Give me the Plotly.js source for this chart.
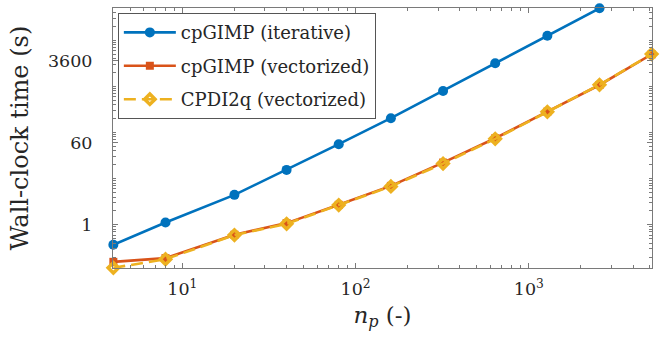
<!DOCTYPE html>
<html>
<head>
<meta charset="utf-8">
<script src="https://cdn.plot.ly/plotly-3.0.1.min.js"></script>
<style>html,body{margin:0;padding:0;background:#fff}#chart{width:662px;height:346px}</style>
</head>
<body>
<div id="chart"></div>
<script>
// Data
const np = [4, 8, 20, 40, 80, 160, 320, 640, 1280, 2560, 5120];
const cpgimpIterative = [0.37, 1.12, 4.46, 15.5, 55.8, 204, 795, 3160, 12500, 49000, null];
const cpgimpVectorized = [0.158, 0.19, 0.61, 1.09, 2.71, 6.98, 22.3, 75, 283, 1070, 4950];
const cpdi2qVectorized = [0.117, 0.18, 0.60, 1.05, 2.68, 6.8, 21.2, 73, 280, 1080, 5000];
const seriesNames = ['cpGIMP (iterative)', 'cpGIMP (vectorized)', 'CPDI2q (vectorized)'];
const yTickVals = [1, 60, 3600];
const yTickText = ['1', '60', '3600'];
const xTickVals = [10, 100, 1000];
const xTickText = ['10<sup>1</sup>', '10<sup>2</sup>', '10<sup>3</sup>'];

function minorVals(lo, hi) {
  const out = [];
  for (let e = lo; e <= hi; e++) for (let m = 1; m <= 9; m++) out.push(m * Math.pow(10, e));
  return out;
}

const FONT = 'DejaVu Serif';
const traces = [
  {x: np, y: cpgimpIterative, name: seriesNames[0], legendgroup: 'a', mode: 'lines+markers', cliponaxis: false,
   line: {color: '#0072BD', width: 2.6}, marker: {symbol: 'circle', size: 10, color: '#0072BD'}},
  {x: np, y: cpgimpVectorized, name: seriesNames[1], legendgroup: 'b', mode: 'lines+markers', cliponaxis: false,
   line: {color: '#D95319', width: 2.6}, marker: {symbol: 'square', size: 8, color: '#D95319'}},
  {x: np, y: cpdi2qVectorized, name: seriesNames[2], legendgroup: 'c', mode: 'lines+markers', cliponaxis: false,
   line: {color: '#EDB120', width: 2.6, dash: '12px,6px'},
   marker: {symbol: 'diamond-open', size: 8, color: '#EDB120', line: {width: 3.5, color: '#EDB120'}}}
];

const axisCommon = {
  type: 'log', showgrid: false, zeroline: false, showline: true, linecolor: '#7a7a7a', linewidth: 1,
  mirror: 'ticks', ticks: 'inside', ticklen: 5, tickcolor: '#7a7a7a', tickwidth: 1,
  tickmode: 'array', tickfont: {family: FONT, size: 17.5, color: '#262626'}
};

const layout = {
  width: 662, height: 346,
  margin: {l: 113, r: 10, t: 8, b: 78},
  paper_bgcolor: '#fff', plot_bgcolor: '#fff',
  showlegend: true,
  font: {family: FONT, color: '#262626'},
  xaxis: Object.assign({}, axisCommon, {
    range: [Math.log10(4) - 0.002, Math.log10(5120) + 0.002],
    tickvals: xTickVals, ticktext: xTickText, ticklabelstandoff: 5,
    minor: {tickmode: 'array', tickvals: minorVals(0, 3), ticks: 'inside', ticklen: 3, tickcolor: '#7a7a7a', tickwidth: 1},
    title: {text: '<i>n</i><sub><i>p</i></sub> (-)', font: {family: FONT, size: 23, color: '#262626'}, standoff: 8}
  }),
  yaxis: Object.assign({}, axisCommon, {
    range: [-0.935, 4.697],
    tickvals: yTickVals, ticktext: yTickText, ticklabelstandoff: 16,
    minor: {tickmode: 'array', tickvals: minorVals(-1, 4), ticks: 'inside', ticklen: 3, tickcolor: '#7a7a7a', tickwidth: 1},
    title: {text: 'Wall-clock time (s)', font: {family: FONT, size: 24, color: '#262626'}, standoff: 12}
  }),
  legend: {
    x: 0.009, y: 0.98, xanchor: 'left', yanchor: 'top',
    bgcolor: '#fff', bordercolor: '#555', borderwidth: 1,
    font: {family: FONT, size: 18, color: '#262626'},
    itemwidth: 52, tracegroupgap: 7
  }
};

Plotly.newPlot('chart', traces, layout, {staticPlot: true, displayModeBar: false});
</script>
</body>
</html>
